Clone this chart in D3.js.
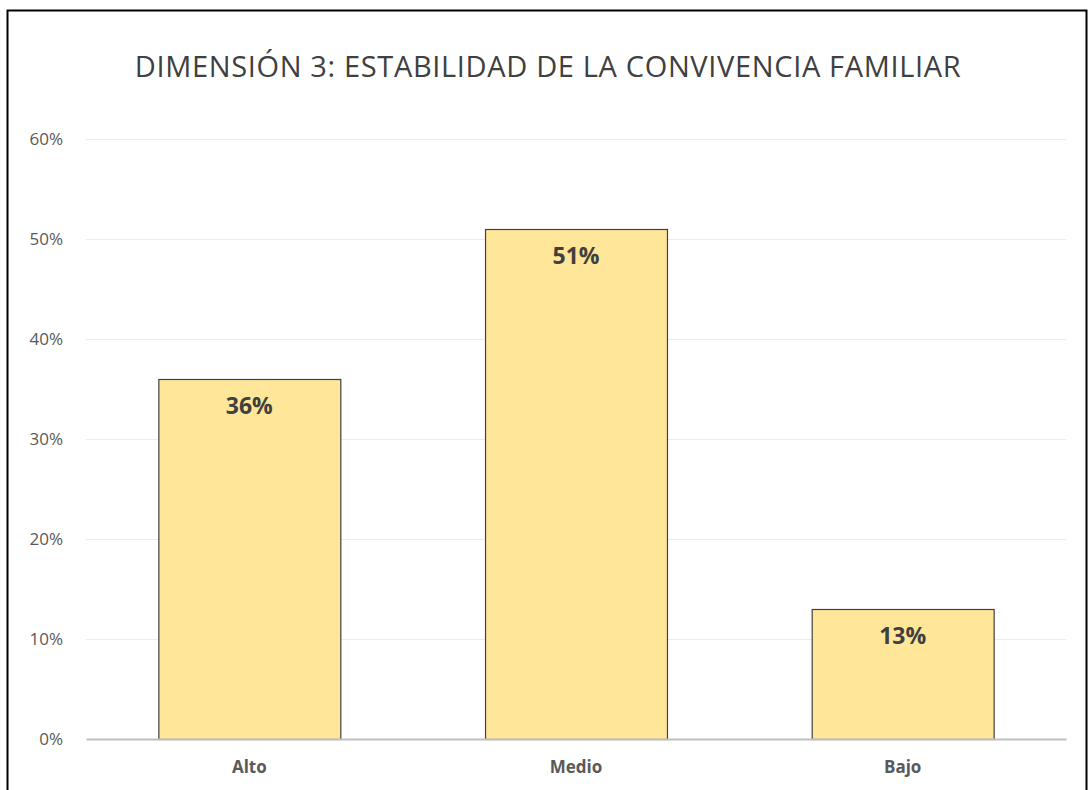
<!DOCTYPE html>
<html>
<head>
<meta charset="utf-8">
<script src="https://cdn.jsdelivr.net/npm/d3@7"></script>
<style>
  body{margin:0;background:#fff;}
  svg text{font-family:"Open Sans","Noto Sans",sans-serif;}
</style>
</head>
<body>
<svg id="chart" width="1089" height="790"></svg>
<script>
// chart data
var categories = ["Alto","Medio","Bajo"];
var values = [0.36,0.51,0.13];
var yTicks = [0,0.1,0.2,0.3,0.4,0.5,0.6];
var title = "DIMENSIÓN 3: ESTABILIDAD DE LA CONVIVENCIA FAMILIAR";

var svg = d3.select("#chart");

// outer frame, bottom edge is cut off in the picture
svg.append("path")
  .attr("d","M7.5,800 V10.5 H1086.5 V800")
  .attr("fill","none")
  .attr("stroke","#000")
  .attr("stroke-width",2);

var plot = {left:86,right:1066,top:139,bottom:739};

var x = d3.scaleBand()
  .domain(categories)
  .range([plot.left,plot.right])
  .paddingInner(0.443)
  .paddingOuter(0.2215);

var y = d3.scaleLinear()
  .domain([0,0.6])
  .range([plot.bottom,plot.top]);

svg.append("text")
  .attr("x",548)
  .attr("y",77)
  .attr("text-anchor","middle")
  .attr("font-size",29)
  .attr("font-weight",400)
  .attr("letter-spacing",0.65)
  .attr("fill","#404040")
  .text(title);

// gridlines
svg.append("g").selectAll("line")
  .data(yTicks.slice(1))
  .join("line")
  .attr("x1",plot.left).attr("x2",plot.right)
  .attr("y1",d=>y(d)+0.5).attr("y2",d=>y(d)+0.5)
  .attr("stroke","#ececec")
  .attr("stroke-width",1);

// y axis
var yAxis = svg.append("g")
  .attr("transform","translate("+(plot.left-20)+",0)")
  .call(d3.axisLeft(y).tickValues(yTicks).tickFormat(d3.format(".0%")).tickSize(0));
yAxis.select(".domain").remove();
yAxis.selectAll("text")
  .attr("font-size",17)
  .attr("fill","#595959")
  .attr("font-family","'Open Sans','Noto Sans',sans-serif");

// bars
svg.append("g").selectAll("rect")
  .data(values)
  .join("rect")
  .attr("x",(d,i)=>x(categories[i])+0.5)
  .attr("y",d=>y(d)+0.5)
  .attr("width",x.bandwidth())
  .attr("height",d=>y(0)-y(d))
  .attr("fill","#FFE699")
  .attr("stroke","#404040")
  .attr("stroke-width",1.2);

// base axis line
var xAxis = svg.append("g")
  .attr("transform","translate(0,"+plot.bottom+")")
  .call(d3.axisBottom(x).tickSize(0).tickPadding(22));
xAxis.select(".domain")
  .attr("stroke","#bfbfbf")
  .attr("stroke-width",2);
xAxis.selectAll("text")
  .attr("font-size",17)
  .attr("font-weight",700)
  .attr("fill","#595959")
  .attr("font-family","'Open Sans','Noto Sans',sans-serif");

// data labels
svg.append("g").selectAll("text")
  .data(values)
  .join("text")
  .attr("x",(d,i)=>x(categories[i])+x.bandwidth()/2)
  .attr("y",d=>y(d)+35)
  .attr("text-anchor","middle")
  .attr("font-size",23)
  .attr("font-weight",700)
  .attr("fill","#404040")
  .text(d=>d3.format(".0%")(d));
</script>
</body>
</html>
